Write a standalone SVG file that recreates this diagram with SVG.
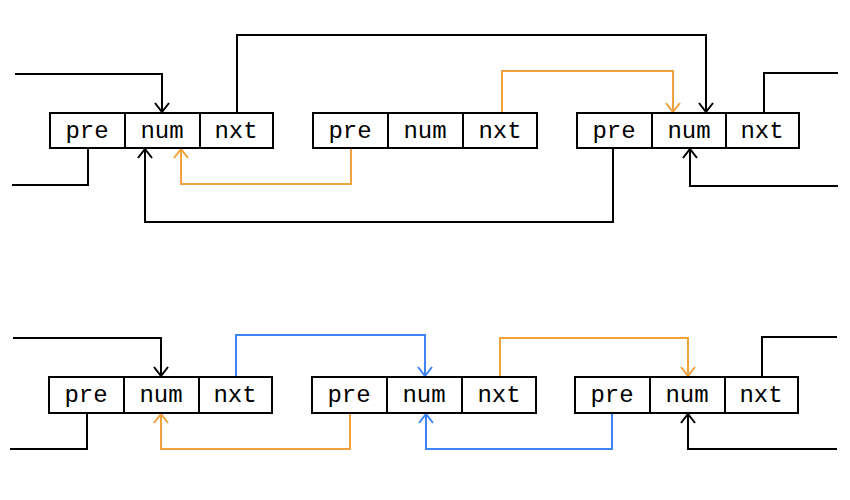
<svg xmlns="http://www.w3.org/2000/svg" width="850" height="500" viewBox="0 0 850 500">
<style>
.cell{fill:#fff;stroke:#000;stroke-width:2}
.t{font-family:"Liberation Mono","Courier New",monospace;font-size:24px;fill:#000;text-anchor:middle}
.c{fill:none;stroke-width:2}
.k{stroke:#000}
.o{stroke:#F0A23C}
.b{stroke:#3D84F5}
</style>
<defs>
<marker id="ak" viewBox="0 0 11 16" refX="10" refY="8" markerWidth="11" markerHeight="16" markerUnits="userSpaceOnUse" orient="auto"><path d="M1,1 L10,8 L1,15" fill="none" stroke="#000" stroke-width="2"/></marker>
<marker id="ao" viewBox="0 0 11 16" refX="10" refY="8" markerWidth="11" markerHeight="16" markerUnits="userSpaceOnUse" orient="auto"><path d="M1,1 L10,8 L1,15" fill="none" stroke="#F0A23C" stroke-width="2"/></marker>
<marker id="ab" viewBox="0 0 11 16" refX="10" refY="8" markerWidth="11" markerHeight="16" markerUnits="userSpaceOnUse" orient="auto"><path d="M1,1 L10,8 L1,15" fill="none" stroke="#3D84F5" stroke-width="2"/></marker>
</defs>
<rect width="850" height="500" fill="#fff"/>
<g id="connectors">
<polyline class="c k" points="15,74 162,74 162,112" marker-end="url(#ak)"/>
<polyline class="c k" points="88,148 88,185 12,185"/>
<polyline class="c k" points="237,113 237,35 706,35 706,112" marker-end="url(#ak)"/>
<polyline class="c o" points="502,113 502,71 673,71 673,112" marker-end="url(#ao)"/>
<polyline class="c o" points="351,148 351,184 181,184 181,149" marker-end="url(#ao)"/>
<polyline class="c k" points="613,148 613,222 145,222 145,149" marker-end="url(#ak)"/>
<polyline class="c k" points="838,186 690,186 690,149" marker-end="url(#ak)"/>
<polyline class="c k" points="764,113 764,73 838,73"/>
<polyline class="c k" points="13,338 161,338 161,376" marker-end="url(#ak)"/>
<polyline class="c k" points="87,413 87,449 10,449"/>
<polyline class="c b" points="236,377 236,335 425,335 425,376" marker-end="url(#ab)"/>
<polyline class="c o" points="350,413 350,449 161,449 161,414" marker-end="url(#ao)"/>
<polyline class="c o" points="500,377 500,338 688,338 688,376" marker-end="url(#ao)"/>
<polyline class="c b" points="612,413 612,449 426,449 426,414" marker-end="url(#ab)"/>
<polyline class="c k" points="762,377 762,337 837,337"/>
<polyline class="c k" points="837,449 688,449 688,414" marker-end="url(#ak)"/>
</g>
<g id="node-top-1">
<rect class="cell" x="50" y="113" width="75" height="35"/><rect class="cell" x="125" y="113" width="75" height="35"/><rect class="cell" x="200" y="113" width="73" height="35"/>
<text class="t" x="87" y="138">pre</text><text class="t" x="162" y="138">num</text><text class="t" x="236" y="138">nxt</text>
</g>
<g id="node-top-2">
<rect class="cell" x="313" y="113" width="75" height="35"/><rect class="cell" x="388" y="113" width="75" height="35"/><rect class="cell" x="463" y="113" width="74" height="35"/>
<text class="t" x="350" y="138">pre</text><text class="t" x="425" y="138">num</text><text class="t" x="500" y="138">nxt</text>
</g>
<g id="node-top-3">
<rect class="cell" x="577" y="113" width="75" height="35"/><rect class="cell" x="652" y="113" width="74" height="35"/><rect class="cell" x="726" y="113" width="73" height="35"/>
<text class="t" x="614" y="138">pre</text><text class="t" x="689" y="138">num</text><text class="t" x="762" y="138">nxt</text>
</g>
<g id="node-bot-1">
<rect class="cell" x="49" y="377" width="75" height="36"/><rect class="cell" x="124" y="377" width="75" height="36"/><rect class="cell" x="199" y="377" width="73" height="36"/>
<text class="t" x="86" y="402">pre</text><text class="t" x="161" y="402">num</text><text class="t" x="235" y="402">nxt</text>
</g>
<g id="node-bot-2">
<rect class="cell" x="312" y="377" width="75" height="36"/><rect class="cell" x="387" y="377" width="75" height="36"/><rect class="cell" x="462" y="377" width="74" height="36"/>
<text class="t" x="349" y="402">pre</text><text class="t" x="424" y="402">num</text><text class="t" x="499" y="402">nxt</text>
</g>
<g id="node-bot-3">
<rect class="cell" x="575" y="377" width="75" height="36"/><rect class="cell" x="650" y="377" width="75" height="36"/><rect class="cell" x="725" y="377" width="73" height="36"/>
<text class="t" x="612" y="402">pre</text><text class="t" x="687" y="402">num</text><text class="t" x="761" y="402">nxt</text>
</g>
</svg>
